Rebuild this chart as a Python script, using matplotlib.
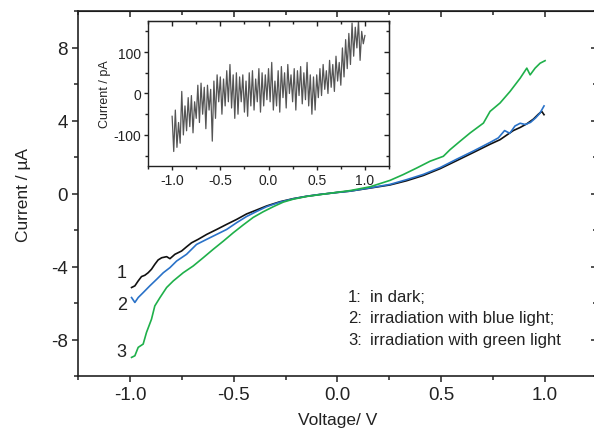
import numpy as np
import matplotlib.pyplot as plt
from matplotlib.ticker import MultipleLocator

plt.rcParams['font.family'] = ['Liberation Sans', 'DejaVu Sans']
plt.rcParams['axes.unicode_minus'] = False

# main curves
v_dark = [-0.992, -0.976, -0.960, -0.944, -0.928, -0.912, -0.896, -0.880, -0.864, -0.847,
          -0.823, -0.807, -0.783, -0.751, -0.727, -0.703, -0.671, -0.630, -0.582, -0.534,
          -0.486, -0.438, -0.389, -0.341, -0.277, -0.213, -0.148, -0.084, 0.0, 0.06,
          0.157, 0.253, 0.333, 0.414, 0.494, 0.574, 0.655, 0.735, 0.783, 0.815, 0.847,
          0.880, 0.912, 0.944, 0.968, 0.984, 0.995]
i_dark = [-5.15, -5.06, -4.79, -4.55, -4.48, -4.34, -4.15, -3.88, -3.64, -3.52,
          -3.46, -3.57, -3.33, -3.15, -2.92, -2.70, -2.51, -2.24, -1.97, -1.69,
          -1.42, -1.12, -0.90, -0.68, -0.45, -0.28, -0.15, -0.05, 0.06, 0.13,
          0.30, 0.47, 0.70, 0.99, 1.36, 1.80, 2.25, 2.70, 2.95, 3.20, 3.45,
          3.62, 3.82, 4.08, 4.35, 4.50, 4.32]

v_blue = [-0.992, -0.976, -0.960, -0.936, -0.904, -0.871, -0.839, -0.807, -0.775, -0.727,
          -0.679, -0.630, -0.582, -0.534, -0.486, -0.438, -0.389, -0.341, -0.277, -0.213,
          -0.148, -0.084, 0.0, 0.06, 0.157, 0.253, 0.333, 0.414, 0.494, 0.574, 0.655,
          0.735, 0.775, 0.805, 0.830, 0.855, 0.880, 0.905, 0.930, 0.955, 0.975, 0.995]
i_blue = [-5.70, -5.97, -5.70, -5.43, -5.06, -4.70, -4.34, -4.06, -3.70, -3.33,
          -2.79, -2.51, -2.24, -1.97, -1.60, -1.26, -0.98, -0.72, -0.47, -0.29,
          -0.15, -0.05, 0.06, 0.13, 0.31, 0.50, 0.76, 1.05, 1.42, 1.88, 2.33,
          2.80, 3.05, 3.45, 3.30, 3.70, 3.85, 3.78, 3.90, 4.15, 4.40, 4.80]

v_green = [-0.992, -0.976, -0.960, -0.936, -0.920, -0.896, -0.880, -0.855, -0.823, -0.791,
           -0.743, -0.695, -0.647, -0.599, -0.550, -0.502, -0.454, -0.406, -0.358, -0.309,
           -0.261, -0.213, -0.148, -0.084, 0.0, 0.06, 0.157, 0.253, 0.317, 0.382, 0.446,
           0.51, 0.542, 0.590, 0.639, 0.671, 0.703, 0.735, 0.783, 0.831, 0.880, 0.912,
           0.928, 0.952, 0.976, 1.0]
i_green = [-8.98, -8.89, -8.43, -8.25, -7.61, -6.89, -6.16, -5.70, -5.15, -4.79,
           -4.34, -3.97, -3.52, -3.06, -2.61, -2.15, -1.72, -1.31, -1.00, -0.72,
           -0.47, -0.31, -0.16, -0.06, 0.07, 0.16, 0.37, 0.72, 1.04, 1.40, 1.77,
           2.04, 2.40, 2.86, 3.32, 3.59, 3.86, 4.50, 4.96, 5.59, 6.32, 6.87,
           6.50, 6.87, 7.14, 7.28]

# inset: current in pA, one reading every 1/60 V from -1.0 to 1.0
v_inset = np.linspace(-1.0, 1.0, 121)
i_inset = [-55, -140, -40, -130, -70, -120, 5, -100, -30, -90,
           -10, -80, -5, -95, -20, -60, 20, -70, 25, -50,
           15, -85, 20, -40, 10, -115, 30, -60, 45, -20,
           40, -50, 35, -30, 55, -20, 70, -35, 45, -60,
           50, -50, 40, -20, 45, -45, 30, -55, 50, -30,
           55, -40, 35, -20, 60, -45, 50, -30, 45, -15,
           60, -20, 75, -40, 30, -30, 55, -45, 65, -10,
           50, -35, 70, 0, 45, -20, 60, -40, 55, -5,
           65, -25, 50, -15, 75, -30, 45, -50, 40, -40,
           45, -10, 60, -5, 70, 10, 55, 0, 80, 15,
           70, 5, 90, 30, 75, 20, 110, 40, 130, 60,
           145, 70, 170, 90, 160, 110, 175, 80, 150, 120,
           140]

txt = '#222222'
fig = plt.figure(figsize=(5.94, 4.39), dpi=100)
ax = fig.add_axes([0.1313, 0.1412, 0.8737, 0.8314])

ax.plot(v_dark, i_dark, color='#111111', lw=1.2)
ax.plot(v_blue, i_blue, color='#2a72c8', lw=1.2)
ax.plot(v_green, i_green, color='#1fb04a', lw=1.2)

ax.set_xlim(-1.25, 1.25)
ax.set_ylim(-10, 10)
ax.xaxis.set_major_locator(MultipleLocator(0.5))
ax.xaxis.set_minor_locator(MultipleLocator(0.25))
ax.yaxis.set_major_locator(MultipleLocator(4))
ax.yaxis.set_minor_locator(MultipleLocator(2))
ax.xaxis.set_major_formatter(plt.FormatStrFormatter('%.1f'))
ax.tick_params(which='both', direction='out', width=1.1, colors=txt, labelsize=13.5)
ax.tick_params(which='major', length=4)
ax.tick_params(which='minor', length=3)
for s in ax.spines.values():
    s.set_linewidth(1.2)
    s.set_color(txt)

# inward ticks on top and right
top = ax.secondary_xaxis('top')
top.xaxis.set_major_locator(MultipleLocator(0.5))
top.xaxis.set_minor_locator(MultipleLocator(0.25))
top.tick_params(which='both', direction='in', labeltop=False, width=1.1, colors=txt)
top.tick_params(which='major', length=4)
top.tick_params(which='minor', length=3)
right = ax.secondary_yaxis('right')
right.yaxis.set_major_locator(MultipleLocator(4))
right.yaxis.set_minor_locator(MultipleLocator(2))
right.tick_params(which='both', direction='in', labelright=False, width=1.1, colors=txt)
right.tick_params(which='major', length=4)
right.tick_params(which='minor', length=3)

ax.set_xlabel('Voltage/ V', fontsize=12.5, color=txt, labelpad=6)
ax.set_ylabel('Current / µA', fontsize=12.5, color=txt, labelpad=14)

# curve numbers
ax.text(-1.039, -4.32, '1', fontsize=13, color=txt, ha='center', va='center')
ax.text(-1.039, -6.07, '2', fontsize=13, color=txt, ha='center', va='center')
ax.text(-1.039, -8.63, '3', fontsize=13, color=txt, ha='center', va='center')

labels = ['in dark;', 'irradiation with blue light;', 'irradiation with green light']
ys = [-5.63, -6.78, -7.98]
for k in range(3):
    ax.text(0.051, ys[k], f'{k+1}:', fontsize=12, color=txt, ha='left', va='center')
    ax.text(0.157, ys[k], labels[k], fontsize=12, color=txt, ha='left', va='center')

# inset
ins = fig.add_axes([0.2492, 0.6196, 0.4057, 0.3303])
ins.plot(v_inset, i_inset, color='#555555', lw=0.9)
ins.set_xlim(-1.25, 1.25)
ins.set_ylim(-175, 175)
ins.xaxis.set_major_locator(MultipleLocator(0.5))
ins.xaxis.set_minor_locator(MultipleLocator(0.25))
ins.yaxis.set_major_locator(MultipleLocator(100))
ins.yaxis.set_minor_locator(MultipleLocator(50))
ins.xaxis.set_major_formatter(plt.FormatStrFormatter('%.1f'))
ins.tick_params(which='both', direction='out', width=1.0, colors=txt, labelsize=10, pad=2)
ins.tick_params(which='major', length=3)
ins.tick_params(which='minor', length=2)
for s in ins.spines.values():
    s.set_linewidth(1.0)
    s.set_color(txt)
itop = ins.secondary_xaxis('top')
itop.xaxis.set_major_locator(MultipleLocator(0.5))
itop.xaxis.set_minor_locator(MultipleLocator(0.25))
itop.tick_params(which='both', direction='in', labeltop=False, width=1.0, colors=txt)
iright = ins.secondary_yaxis('right')
iright.yaxis.set_major_locator(MultipleLocator(100))
iright.yaxis.set_minor_locator(MultipleLocator(50))
iright.tick_params(which='both', direction='in', labelright=False, width=1.0, colors=txt)
ins.set_ylabel('Current / pA', fontsize=9, color=txt, labelpad=2)

fig.savefig('out.png', dpi=100)
